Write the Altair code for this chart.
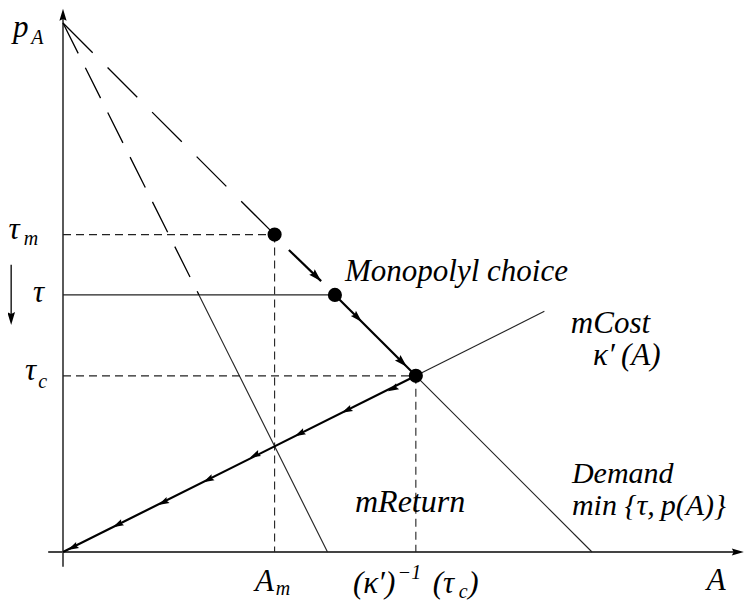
import altair as alt
import pandas as pd
import numpy as np

# ---------------- values (data units) ----------------
p_A = 10.0                 # demand / mReturn intercept on price axis
A_demand0 = 10.0           # demand hits A axis
A_mreturn0 = 5.0           # mReturn hits A axis
tau_m, A_m = 6.0, 4.0      # monopoly price / quantity
tau, A_tau = 4.86, 5.14    # price cap tau and kink of demand
A_mr_tau = 2.57            # mReturn at tau
tau_c, A_c = 3.33, 6.67    # competitive point
mcost_end = (9.10, 4.55)   # end of mCost line

# solid thin segments (x, y, x2, y2)
thin_x = [0.0, A_mr_tau, A_c, A_c]
thin_y = [tau, tau, tau_c, tau_c]
thin_x2 = [A_tau, A_mreturn0, A_demand0, mcost_end[0]]
thin_y2 = [tau, 0.0, 0.0, mcost_end[1]]

# thick path segments
thick_x = [A_tau, 0.0, 4.27]
thick_y = [tau, 0.0, 5.71]
thick_x2 = [A_c, A_c, 4.88]
thick_y2 = [tau_c, tau_c, 5.12]

# long dashed: mReturn (steep) and p(A)
mr_dash = ([0.0], [p_A], [A_mr_tau], [tau])
pa_dash = ([0.0], [p_A], [A_m], [tau_m])

# short dashed guides
guide_x = [0.0, A_m, 0.0, A_c]
guide_y = [tau_m, tau_m, tau_c, tau_c]
guide_x2 = [A_m, A_m, A_c, A_c]
guide_y2 = [tau_m, 0.0, tau_c, 0.0]

# axes
axis_y = ([0.0], [-0.28], [0.0], [10.1])
axis_x = ([-0.28], [0.0], [12.7], [0.0])
left_arrow = ([-0.98], [5.43], [-0.98], [4.45])

# dots
dot_x = [A_m, A_tau, A_c]
dot_y = [tau_m, tau, tau_c]

# arrow tips (x, y), direction (dx, dy), length px
tips_x = [0.0, 12.87, -0.98, 4.88, 5.65, 6.50,
          6.14, 5.27, 4.38, 3.53, 2.65, 1.80, 0.94, 0.09]
tips_y = [10.27, 0.0, 4.29, 5.12, 4.35, 3.50,
          3.04, 2.63, 2.19, 1.78, 1.32, 0.89, 0.47, 0.04]
dirs_x = [0, 1, 0, 1, 1, 1] + [-A_c] * 8
dirs_y = [1, 0, -1, -1, -1, -1] + [-tau_c] * 8
arrow_len = [12, 12, 13, 13, 12, 13] + [11] * 8

# labels: (text, x, y, font size)
lab_text = ["p", "A", "τ", "m", "τ", "τ", "c",
            "Monopolyl choice", "mCost", "κ′\u2009(A)", "Demand",
            "min {τ,\u2009p(A)}", "mReturn",
            "A", "m", "(κ′)", "−1", "(τ", "c", ")", "A"]
lab_x = [-0.945, -0.60, -1.03, -0.74, -0.567, -0.718, -0.47,
         5.33, 9.60, 10.02, 9.62, 9.62, 5.52,
         3.63, 4.02, 5.48, 6.33, 6.99, 7.48, 7.66, 12.17]
lab_y = [9.74, 9.60, 5.92, 5.80, 4.73, 3.25, 3.10,
         5.12, 4.14, 3.53, 1.31, 0.70, 0.76,
         -0.737, -0.81, -0.775, -0.51, -0.775, -0.87, -0.775, -0.718]
lab_size = [31, 20, 31, 20, 31, 31, 20,
            31, 31, 31, 30, 30, 32,
            31, 20, 31, 20, 31, 20, 31, 31]

# ---------------- scales ----------------
PX = 52.9
W, H = 740, 602
x_dom = [-55 / PX, (W - 55) / PX]
y_dom = [-(H - 544) / PX, 544 / PX]
xs = alt.Scale(domain=x_dom, nice=False, zero=False)
ys = alt.Scale(domain=y_dom, nice=False, zero=False)


def seg_df(x, y, x2, y2):
    return pd.DataFrame({"x": x, "y": y, "x2": x2, "y2": y2})


def rules(df, **kw):
    return alt.Chart(df).mark_rule(**kw).encode(
        x=alt.X("x:Q", scale=xs, axis=None),
        y=alt.Y("y:Q", scale=ys, axis=None),
        x2="x2:Q", y2="y2:Q")


layers = []
layers.append(rules(seg_df(*axis_y), color="black", strokeWidth=1.3))
layers.append(rules(seg_df(*axis_x), color="#444444", strokeWidth=1.8))
layers.append(rules(seg_df(*left_arrow), color="black", strokeWidth=1.3))
layers.append(rules(seg_df(thin_x, thin_y, thin_x2, thin_y2),
                    color="#222222", strokeWidth=1.1))
layers.append(rules(seg_df(guide_x, guide_y, guide_x2, guide_y2),
                    color="#222222", strokeWidth=1.1, strokeDash=[8, 5]))
layers.append(rules(seg_df(*mr_dash), color="black", strokeWidth=1.3,
                    strokeDash=[34, 16]))
layers.append(rules(seg_df(*pa_dash), color="black", strokeWidth=1.3,
                    strokeDash=[42, 21]))
layers.append(rules(seg_df(thick_x, thick_y, thick_x2, thick_y2),
                    color="black", strokeWidth=2.2))

# arrowheads
tx = np.array(tips_x); ty = np.array(tips_y)
dx = np.array(dirs_x, dtype=float); dy = np.array(dirs_y, dtype=float)
nrm = np.hypot(dx, dy)
L = np.array(arrow_len, dtype=float)
cx = tx - dx / nrm * (L / 2) / PX
cy = ty - dy / nrm * (L / 2) / PX
ang = (np.degrees(np.arctan2(dx, dy)) + 360) % 360
arr_df = pd.DataFrame({"x": cx, "y": cy, "angle": ang, "size": L ** 2})
layers.append(alt.Chart(arr_df).mark_point(
    shape="M0,-1L0.6,1L0,0.7L-0.6,1Z", filled=True, color="black",
    opacity=1, strokeWidth=0).encode(
    x=alt.X("x:Q", scale=xs, axis=None),
    y=alt.Y("y:Q", scale=ys, axis=None),
    angle=alt.Angle("angle:Q", scale=None),
    size=alt.Size("size:Q", scale=None, legend=None)))

# dots
dot_df = pd.DataFrame({"x": dot_x, "y": dot_y})
layers.append(alt.Chart(dot_df).mark_circle(size=200, color="black",
                                            opacity=1).encode(
    x=alt.X("x:Q", scale=xs, axis=None),
    y=alt.Y("y:Q", scale=ys, axis=None)))

# labels
lab_df = pd.DataFrame({"text": lab_text, "x": lab_x, "y": lab_y,
                       "size": lab_size})
layers.append(alt.Chart(lab_df).mark_text(
    font="Liberation Serif", fontStyle="italic", align="left",
    baseline="alphabetic", color="black").encode(
    x=alt.X("x:Q", scale=xs, axis=None),
    y=alt.Y("y:Q", scale=ys, axis=None),
    text="text:N",
    size=alt.Size("size:Q", scale=None, legend=None)))

chart = alt.layer(*layers).properties(
    width=W, height=H, autosize="none", padding=0
).configure_view(stroke=None)

chart.save("out.html", embed_options={"renderer": "svg", "actions": False})
